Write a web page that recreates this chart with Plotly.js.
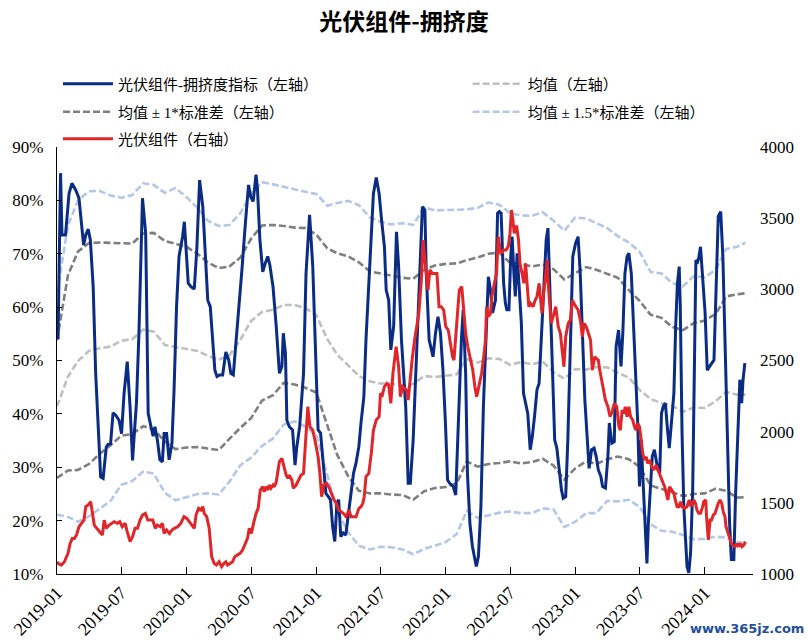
<!DOCTYPE html>
<html><head><meta charset="utf-8">
<script src="https://cdn.plot.ly/plotly-3.0.1.min.js"></script>
<style>html,body{margin:0;padding:0;background:#fff}#chart{width:808px;height:643px}</style>
</head><body><div id="chart"></div>
<script>
// 光伏组件-拥挤度指标（左轴，%）
const blueDates = ["2019-01-04","2019-01-11","2019-01-15","2019-01-25","2019-02-04","2019-02-12","2019-02-23","2019-03-04","2019-03-17","2019-03-23","2019-03-30","2019-04-05","2019-04-13","2019-04-20","2019-04-29","2019-05-04","2019-05-11","2019-05-20","2019-05-25","2019-06-01","2019-06-08","2019-06-15","2019-06-25","2019-07-02","2019-07-09","2019-07-18","2019-07-26","2019-08-02","2019-08-07","2019-08-13","2019-08-20","2019-08-30","2019-09-08","2019-09-15","2019-09-22","2019-09-29","2019-10-04","2019-10-11","2019-10-18","2019-10-25","2019-10-30","2019-11-06","2019-11-13","2019-11-21","2019-11-27","2019-12-04","2019-12-11","2019-12-21","2019-12-26","2019-12-31","2020-01-06","2020-01-14","2020-01-23","2020-01-30","2020-02-07","2020-02-16","2020-02-23","2020-03-01","2020-03-08","2020-03-14","2020-03-21","2020-03-27","2020-04-03","2020-04-12","2020-04-21","2020-04-29","2020-05-05","2020-05-12","2020-05-19","2020-05-27","2020-06-06","2020-06-15","2020-06-24","2020-06-30","2020-07-07","2020-07-15","2020-07-19","2020-07-26","2020-08-03","2020-08-10","2020-08-17","2020-08-23","2020-09-01","2020-09-10","2020-09-19","2020-09-26","2020-09-30","2020-10-06","2020-10-10","2020-10-17","2020-10-26","2020-11-02","2020-11-07","2020-11-15","2020-11-21","2020-11-26","2020-12-03","2020-12-13","2020-12-22","2020-12-31","2021-01-06","2021-01-13","2021-01-20","2021-01-28","2021-02-04","2021-02-10","2021-02-16","2021-02-22","2021-02-28","2021-03-05","2021-03-11","2021-03-18","2021-03-25","2021-04-02","2021-04-09","2021-04-16","2021-04-23","2021-05-01","2021-05-07","2021-05-15","2021-05-21","2021-05-29","2021-06-05","2021-06-11","2021-06-19","2021-06-27","2021-07-04","2021-07-12","2021-07-17","2021-07-24","2021-07-30","2021-08-07","2021-08-15","2021-08-21","2021-08-29","2021-09-05","2021-09-10","2021-09-17","2021-09-23","2021-10-01","2021-10-07","2021-10-15","2021-10-21","2021-10-27","2021-11-03","2021-11-07","2021-11-15","2021-11-22","2021-11-26","2021-12-03","2021-12-10","2021-12-17","2021-12-24","2021-12-31","2022-01-06","2022-01-12","2022-01-22","2022-01-29","2022-02-02","2022-02-08","2022-02-14","2022-02-19","2022-02-26","2022-03-03","2022-03-10","2022-03-17","2022-03-24","2022-03-28","2022-04-03","2022-04-10","2022-04-17","2022-04-24","2022-05-01","2022-05-07","2022-05-13","2022-05-21","2022-05-27","2022-06-01","2022-06-06","2022-06-13","2022-06-18","2022-06-22","2022-06-28","2022-07-03","2022-07-07","2022-07-12","2022-07-16","2022-07-21","2022-07-26","2022-08-02","2022-08-08","2022-08-14","2022-08-20","2022-08-27","2022-09-02","2022-09-09","2022-09-15","2022-09-21","2022-09-27","2022-10-04","2022-10-11","2022-10-16","2022-10-20","2022-10-25","2022-10-30","2022-11-04","2022-11-10","2022-11-16","2022-11-23","2022-11-28","2022-12-05","2022-12-11","2022-12-18","2022-12-25","2023-01-02","2023-01-09","2023-01-15","2023-01-21","2023-01-28","2023-02-04","2023-02-09","2023-02-16","2023-02-23","2023-03-01","2023-03-07","2023-03-14","2023-03-19","2023-03-27","2023-04-03","2023-04-07","2023-04-14","2023-04-21","2023-04-26","2023-05-03","2023-05-10","2023-05-15","2023-05-21","2023-05-27","2023-06-01","2023-06-08","2023-06-12","2023-06-20","2023-06-26","2023-07-01","2023-07-06","2023-07-10","2023-07-15","2023-07-22","2023-07-26","2023-07-31","2023-08-06","2023-08-12","2023-08-17","2023-08-22","2023-08-27","2023-09-01","2023-09-06","2023-09-12","2023-09-18","2023-09-23","2023-09-29","2023-10-06","2023-10-11","2023-10-16","2023-10-21","2023-10-24","2023-10-29","2023-11-03","2023-11-08","2023-11-12","2023-11-17","2023-11-22","2023-11-28","2023-12-02","2023-12-07","2023-12-12","2023-12-15","2023-12-20","2023-12-26","2024-01-02","2024-01-08","2024-01-14","2024-01-21","2024-01-27","2024-02-02","2024-02-08","2024-02-15","2024-02-21","2024-02-27","2024-03-04","2024-03-11","2024-03-16","2024-03-23","2024-03-28","2024-04-02","2024-04-09","2024-04-14","2024-04-18","2024-04-23"];
const blueVals = [54,85.1,73.5,73.5,81.3,83.2,81.9,80.4,71.6,73.5,74.6,72.6,63.8,47.6,35.1,28.2,27.9,33.8,34.3,34.4,40.2,39.8,38.8,36.3,43.8,49.8,41.3,31.3,36.3,42,55.1,80.4,73.8,40.1,37.9,35.8,37.6,35.1,31.4,31,36.3,36.3,31.4,34.5,44.5,60.1,69.5,73.2,76,71.3,64.5,63.8,63.4,70.7,83.8,78.8,69.5,61.3,60.1,55.1,48.2,47,47.3,47.3,51.6,50.1,47.6,47.3,52.6,60.1,67.6,75.7,82.9,80.7,79.8,84.8,82.3,72.6,66.6,68.2,69.5,67.9,63.8,56.4,47.6,48.9,55.1,51.3,38.8,37.6,37,30.4,33.8,37.6,42.6,47.6,66.3,77.3,67.6,47.6,37,36.4,31.4,25.1,24.5,23.9,18.9,16.1,23.3,23.9,17,17.7,17.3,21.4,25.1,28.9,30.8,33.9,38.3,43.2,53.9,64.5,72.6,81.3,84.3,81.3,76.3,71.3,63.2,61.3,52,56.4,74.1,67.6,53.9,47.6,41.4,27,27,35.1,45.1,58.9,69.5,78.8,78.2,66.3,53.9,51.4,50.7,55.1,58.2,55.1,48.2,38.3,27.6,27,26.4,24.8,32,46.4,53.9,59.5,47.6,28.9,19.5,15.2,12.3,11.4,13.3,22.6,41.4,55.1,65.7,63.2,58.9,61.3,77.6,77.9,77.6,64.5,60.7,59.5,59.5,69.5,73.2,66.3,62,70.1,65.1,57,43.9,42,40.1,33.3,35.8,40.1,44.5,45.7,53.9,65.1,72.6,74.8,66.3,53.9,43.2,35.1,33.6,29.5,25.8,24.2,24.5,35.1,52.6,69.5,72,73.2,66.3,53.9,42.6,35.1,29.8,33.3,33.6,32,29.5,28.3,26.4,26.1,32,38.3,34.5,34.8,52.6,55.7,48.9,55.1,66.3,69.5,70.1,66.3,60.1,50.1,38.3,26.4,35.1,28.9,21.4,12,19.5,25.8,32,33.3,31.4,29.5,28.9,40.1,41.4,42,37,33.6,38.3,43.9,56.4,64.5,67.6,60.1,36.4,22.6,16.4,11.4,10.2,13.9,25.8,47.6,68.8,68.5,69.2,71.3,65.1,58.9,48.2,48.9,49.5,50.1,64.5,77,77.9,69.5,53.9,35.1,19.5,12.7,12.7,25.1,35.1,46.4,42,46.4,49.5];

// 光伏组件（右轴）
const redDates = ["2019-01-01","2019-01-04","2019-01-13","2019-01-22","2019-02-01","2019-02-07","2019-02-13","2019-02-19","2019-02-25","2019-03-04","2019-03-11","2019-03-18","2019-03-23","2019-03-30","2019-04-06","2019-04-11","2019-04-16","2019-04-23","2019-04-30","2019-05-09","2019-05-14","2019-05-20","2019-05-28","2019-06-04","2019-06-11","2019-06-20","2019-06-27","2019-07-04","2019-07-12","2019-07-18","2019-07-26","2019-08-02","2019-08-09","2019-08-16","2019-08-23","2019-08-30","2019-09-07","2019-09-14","2019-09-20","2019-09-28","2019-10-05","2019-10-11","2019-10-19","2019-10-25","2019-10-30","2019-11-06","2019-11-14","2019-11-21","2019-11-28","2019-12-07","2019-12-16","2019-12-25","2020-01-02","2020-01-09","2020-01-17","2020-01-23","2020-01-28","2020-02-04","2020-02-11","2020-02-16","2020-02-20","2020-02-27","2020-03-05","2020-03-12","2020-03-19","2020-03-25","2020-04-02","2020-04-09","2020-04-16","2020-04-21","2020-04-26","2020-05-02","2020-05-10","2020-05-16","2020-05-24","2020-05-31","2020-06-07","2020-06-15","2020-06-21","2020-06-26","2020-07-02","2020-07-08","2020-07-15","2020-07-21","2020-07-27","2020-08-03","2020-08-07","2020-08-12","2020-08-17","2020-08-21","2020-08-26","2020-09-01","2020-09-05","2020-09-10","2020-09-14","2020-09-19","2020-09-26","2020-10-01","2020-10-08","2020-10-13","2020-10-17","2020-10-24","2020-10-28","2020-11-05","2020-11-13","2020-11-19","2020-11-26","2020-12-01","2020-12-08","2020-12-14","2020-12-22","2020-12-28","2021-01-06","2021-01-11","2021-01-16","2021-01-22","2021-01-30","2021-02-07","2021-02-13","2021-02-20","2021-02-27","2021-03-05","2021-03-12","2021-03-18","2021-03-26","2021-04-03","2021-04-09","2021-04-16","2021-04-23","2021-05-01","2021-05-07","2021-05-12","2021-05-16","2021-05-21","2021-05-29","2021-06-05","2021-06-11","2021-06-19","2021-06-27","2021-07-01","2021-07-06","2021-07-12","2021-07-19","2021-07-24","2021-07-30","2021-08-05","2021-08-14","2021-08-21","2021-08-26","2021-09-01","2021-09-08","2021-09-12","2021-09-17","2021-09-22","2021-09-28","2021-10-05","2021-10-12","2021-10-17","2021-10-24","2021-10-29","2021-11-03","2021-11-07","2021-11-12","2021-11-17","2021-11-24","2021-12-01","2021-12-07","2021-12-13","2021-12-19","2021-12-26","2022-01-01","2022-01-08","2022-01-14","2022-01-20","2022-01-24","2022-01-29","2022-02-03","2022-02-08","2022-02-15","2022-02-19","2022-02-26","2022-03-04","2022-03-10","2022-03-18","2022-03-24","2022-03-29","2022-04-06","2022-04-12","2022-04-18","2022-04-23","2022-04-26","2022-05-01","2022-05-07","2022-05-11","2022-05-18","2022-05-24","2022-05-29","2022-06-03","2022-06-08","2022-06-13","2022-06-20","2022-06-26","2022-07-01","2022-07-05","2022-07-09","2022-07-13","2022-07-16","2022-07-20","2022-07-25","2022-07-29","2022-08-04","2022-08-09","2022-08-14","2022-08-18","2022-08-23","2022-08-28","2022-09-04","2022-09-10","2022-09-15","2022-09-21","2022-09-25","2022-09-29","2022-10-04","2022-10-10","2022-10-14","2022-10-16","2022-10-21","2022-10-25","2022-11-02","2022-11-07","2022-11-14","2022-11-20","2022-11-26","2022-11-30","2022-12-05","2022-12-12","2022-12-18","2022-12-24","2022-12-28","2023-01-03","2023-01-09","2023-01-16","2023-01-21","2023-01-26","2023-02-01","2023-02-07","2023-02-13","2023-02-18","2023-02-25","2023-03-01","2023-03-07","2023-03-11","2023-03-19","2023-03-27","2023-04-03","2023-04-09","2023-04-15","2023-04-21","2023-04-28","2023-05-04","2023-05-08","2023-05-13","2023-05-18","2023-05-22","2023-05-27","2023-06-01","2023-06-06","2023-06-12","2023-06-17","2023-06-21","2023-06-26","2023-07-01","2023-07-06","2023-07-10","2023-07-15","2023-07-20","2023-07-24","2023-07-29","2023-08-05","2023-08-10","2023-08-17","2023-08-22","2023-08-29","2023-09-06","2023-09-10","2023-09-15","2023-09-19","2023-09-24","2023-10-01","2023-10-06","2023-10-10","2023-10-15","2023-10-21","2023-10-24","2023-10-30","2023-11-06","2023-11-12","2023-11-18","2023-11-23","2023-11-27","2023-12-01","2023-12-06","2023-12-10","2023-12-15","2023-12-20","2023-12-26","2023-12-29","2024-01-04","2024-01-06","2024-01-11","2024-01-16","2024-01-20","2024-01-25","2024-01-30","2024-02-04","2024-02-08","2024-02-13","2024-02-18","2024-02-22","2024-02-27","2024-03-01","2024-03-06","2024-03-11","2024-03-16","2024-03-20","2024-03-27","2024-04-01","2024-04-06","2024-04-10","2024-04-15","2024-04-20","2024-04-25"];
const redVals = [1086,1075,1063,1086,1145,1215,1250,1250,1274,1332,1356,1379,1473,1485,1508,1438,1344,1321,1297,1274,1379,1321,1344,1356,1367,1356,1367,1332,1356,1297,1227,1262,1321,1321,1379,1414,1426,1379,1379,1379,1321,1344,1332,1356,1285,1309,1285,1309,1321,1332,1356,1403,1391,1367,1344,1321,1414,1461,1449,1473,1426,1403,1321,1121,1075,1063,1086,1051,1075,1086,1063,1075,1086,1121,1133,1145,1168,1215,1250,1321,1285,1356,1426,1461,1590,1613,1578,1613,1590,1625,1602,1625,1613,1648,1707,1789,1812,1754,1695,1672,1695,1660,1602,1625,1660,1695,1707,1941,2175,2035,2011,1941,1824,1707,1543,1625,1637,1602,1566,1520,1496,1449,1438,1426,1403,1449,1403,1403,1403,1461,1473,1496,1543,1684,1707,1847,2011,2082,2105,2269,2257,2316,2339,2328,2199,2410,2597,2456,2246,2316,2304,2292,2222,2363,2503,2644,2761,2831,3065,3346,3206,3089,2995,3136,3112,3112,3112,2878,2878,2855,2737,2714,2620,2527,2503,2667,2878,2995,3019,2901,2691,2597,2527,2433,2316,2246,2339,2410,2527,2644,2878,2808,2831,2948,3042,3112,3370,3276,3253,3276,3276,3300,3393,3557,3487,3393,3440,3440,3346,3182,3112,3042,3182,3065,2878,2901,2878,2925,2948,3042,2925,2831,2972,3112,3206,3065,2925,2761,2831,2878,2737,2691,2550,2456,2667,2761,2784,2925,2901,2878,2855,2773,2667,2761,2737,2691,2644,2433,2527,2515,2503,2433,2316,2222,2175,2105,2140,2199,2175,2035,2011,2152,2129,2175,2105,2175,2105,2082,2035,2011,2058,2035,1941,1847,1801,1824,1777,1801,1754,1730,1765,1730,1684,1637,1613,1566,1520,1613,1590,1566,1520,1473,1473,1508,1473,1461,1473,1520,1473,1496,1520,1496,1449,1426,1426,1473,1508,1520,1403,1239,1379,1379,1414,1426,1473,1496,1520,1496,1438,1403,1332,1297,1262,1215,1203,1192,1215,1192,1215,1192,1203,1227];

// 均值与标准差带（左轴，%）
const bandDates = ["2019-01","2019-02","2019-03","2019-04","2019-05","2019-06","2019-07","2019-08","2019-09","2019-10","2019-11","2019-12","2020-01","2020-02","2020-03","2020-04","2020-05","2020-06","2020-07","2020-08","2020-09","2020-10","2020-11","2020-12","2021-01","2021-02","2021-03","2021-04","2021-05","2021-06","2021-07","2021-08","2021-09","2021-10","2021-11","2021-12","2022-01","2022-02","2022-03","2022-04","2022-05","2022-06","2022-07","2022-08","2022-09","2022-10","2022-11","2022-12","2023-01","2023-02","2023-03","2023-04","2023-05","2023-06","2023-07","2023-08","2023-09","2023-10","2023-11","2023-12","2024-01","2024-02","2024-03","2024-04","2024-04-25"];
const meanVals = [41.4,47.0,49.9,51.8,52.3,52.6,53.7,54.0,55.8,55.4,52.9,52.5,52.2,51.8,50.9,50.1,51.0,53.9,57.4,59.1,59.5,60.4,60.4,59.8,58.5,54.0,51.1,49.1,47.1,46.1,45.7,45.7,45.4,45.6,47.1,46.9,47.2,47.4,50.3,49.6,50.4,50.3,49.2,49.7,49.3,49.8,47.8,46.6,48.4,48.3,48.8,48.7,47.7,46.8,44.5,42.8,42.0,41.5,40.4,41.2,41.1,42.4,44.1,43.6,43.6];
const up1Vals = [53.8,66.0,70.4,72.0,72.1,72.0,71.9,71.9,73.8,73.9,72.4,71.8,71.3,70.0,68.4,67.3,67.6,69.3,72.8,75.3,75.4,75.2,74.9,74.8,73.6,71.0,70.1,69.5,68.4,66.7,66.3,65.8,65.5,65.3,67.0,67.8,68.1,68.2,68.8,69.3,70.0,70.2,68.3,68.1,67.6,68.0,67.1,65.2,66.4,67.5,67.0,66.3,65.5,63.2,61.2,58.6,58.0,56.3,55.7,57.0,57.5,58.7,62.0,62.4,62.6];
const lo1Vals = [28.0,29.4,29.5,30.6,32.5,34.1,35.9,36.2,37.7,37.1,34.8,33.4,33.7,33.8,33.5,33.2,35.3,37.4,39.2,42.5,43.5,45.8,45.5,44.9,44.0,37.8,32.3,28.3,25.6,25.1,25.1,24.9,24.8,23.9,25.5,26.1,26.3,27.0,31.1,30.1,30.6,30.8,31.1,30.7,31.0,31.6,30.3,27.7,29.8,31.1,30.6,31.5,32.0,31.5,30.1,26.6,26.0,25.3,24.6,25.0,25.1,26.0,25.6,24.3,24.4];
const up15Vals = [62.6,75.3,80.0,81.7,81.8,80.9,80.5,81.0,83.2,82.9,81.4,82.3,80.6,78.6,76.2,75.2,75.4,77.6,81.3,83.4,83.0,82.5,82.0,81.6,81.2,79.0,79.5,79.9,79.1,76.8,76.0,75.5,75.7,75.4,78.7,78.1,78.2,78.3,78.3,78.6,79.6,79.2,77.6,77.2,77.1,77.8,76.2,74.3,76.8,76.6,75.7,74.8,73.3,72.1,70.4,66.6,66.3,64.5,63.9,65.8,65.6,67.0,70.9,71.3,72.1];
const lo15Vals = [21.1,20.7,19.8,20.8,22.2,23.7,26.7,27.4,29.2,28.8,25.2,23.8,24.4,25.0,25.1,24.9,27.3,30.4,31.8,34.0,35.4,38.0,38.6,37.6,36.0,28.4,21.8,17.8,15.3,14.6,15.1,15.0,14.6,13.7,14.7,15.3,16.0,17.5,21.8,20.5,21.0,21.5,21.7,21.4,21.4,22.3,22.1,18.8,19.8,21.4,21.4,23.7,23.6,23.9,22.6,19.3,18.1,17.9,17.3,16.5,16.6,17.0,16.8,16.0,15.8];

const FONT = "'Liberation Serif', 'Times New Roman', 'Noto Sans CJK SC', serif";
const dashStyle = "7px,3px";

function dashed(y, name, color, leg, show) {
  return {x: bandDates, y: y, name: name, type: 'scatter', mode: 'lines',
    line: {color: color, width: 2.6, dash: dashStyle}, legend: leg,
    showlegend: show, hoverinfo: 'skip'};
}

const traces = [
  dashed(meanVals, '均值（左轴）', '#BFBFBF', 'legend2', true),
  dashed(up1Vals, '均值 ± 1*标准差（左轴）', '#7F7F7F', 'legend3', true),
  dashed(lo1Vals, '均值 ± 1*标准差（左轴）', '#7F7F7F', 'legend3', false),
  dashed(up15Vals, '均值 ± 1.5*标准差（左轴）', '#B4C7E7', 'legend4', true),
  dashed(lo15Vals, '均值 ± 1.5*标准差（左轴）', '#B4C7E7', 'legend4', false),
  {x: blueDates, y: blueVals, name: '光伏组件-拥挤度指标（左轴）', type: 'scatter', mode: 'lines',
   line: {color: '#0B2C84', width: 3}, legend: 'legend'},
  {x: redDates, y: redVals, name: '光伏组件（右轴）', type: 'scatter', mode: 'lines', yaxis: 'y2',
   line: {color: '#E1262A', width: 3}, legend: 'legend5'}
];

function leg(x, y) {
  return {orientation: 'v', x: x, xanchor: 'left', y: y, yanchor: 'middle', itemwidth: 50,
          font: {family: FONT, size: 15, color: '#000'}, bgcolor: 'rgba(0,0,0,0)', borderwidth: 0};
}
const colL = 0.0014, colR = 0.59;
const row1 = 1.1475, row2 = 1.082, row3 = 1.0187;

const layout = {
  width: 808, height: 643,
  margin: {l: 57, r: 55, t: 147, b: 69},
  paper_bgcolor: '#fff', plot_bgcolor: '#fff',
  font: {family: FONT, color: '#000', size: 15},
  title: {text: '光伏组件-拥挤度', x: 0.5, xanchor: 'center', y: 0.966, yanchor: 'middle',
          font: {family: "'Noto Sans CJK SC', sans-serif", size: 23, weight: 700, color: '#000'}},
  showlegend: true,
  legend: leg(colL, row1),
  legend2: leg(colR, row1),
  legend3: leg(colL, row2),
  legend4: leg(colR, row2),
  legend5: leg(colL, row3),
  xaxis: {type: 'date', range: ['2019-01-01', '2024-05-16'], tick0: '2019-01-01', dtick: 'M6',
          tickformat: '%Y-%m', tickangle: -45, ticks: 'inside', ticklen: 7, tickcolor: '#000',
          showline: true, linecolor: '#000', linewidth: 1.2, showgrid: false, zeroline: false,
          tickfont: {family: FONT, size: 18, color: '#000'}},
  yaxis: {range: [10, 90], dtick: 10, ticksuffix: '%', ticks: 'inside', ticklen: 5, tickcolor: '#000',
          showline: true, linecolor: '#000', linewidth: 1.2, showgrid: false, zeroline: false,
          ticklabelstandoff: 9, tickfont: {family: FONT, size: 17, color: '#000'}},
  yaxis2: {range: [1000, 4000], dtick: 500, overlaying: 'y', side: 'right', showline: false,
           showgrid: false, zeroline: false, ticks: '', ticklabelstandoff: 6,
           tickfont: {family: FONT, size: 17, color: '#000'}},
  annotations: [{text: 'www.365jz.com', xref: 'paper', yref: 'paper', x: 1.0745, y: -0.127,
                 xanchor: 'right', yanchor: 'middle', showarrow: false, borderpad: 0,
                 font: {family: "'DejaVu Sans', sans-serif", size: 13, weight: 700, color: '#1F4E9A'}}]
};

Plotly.newPlot('chart', traces, layout, {displayModeBar: false, staticPlot: true});
</script></body></html>
